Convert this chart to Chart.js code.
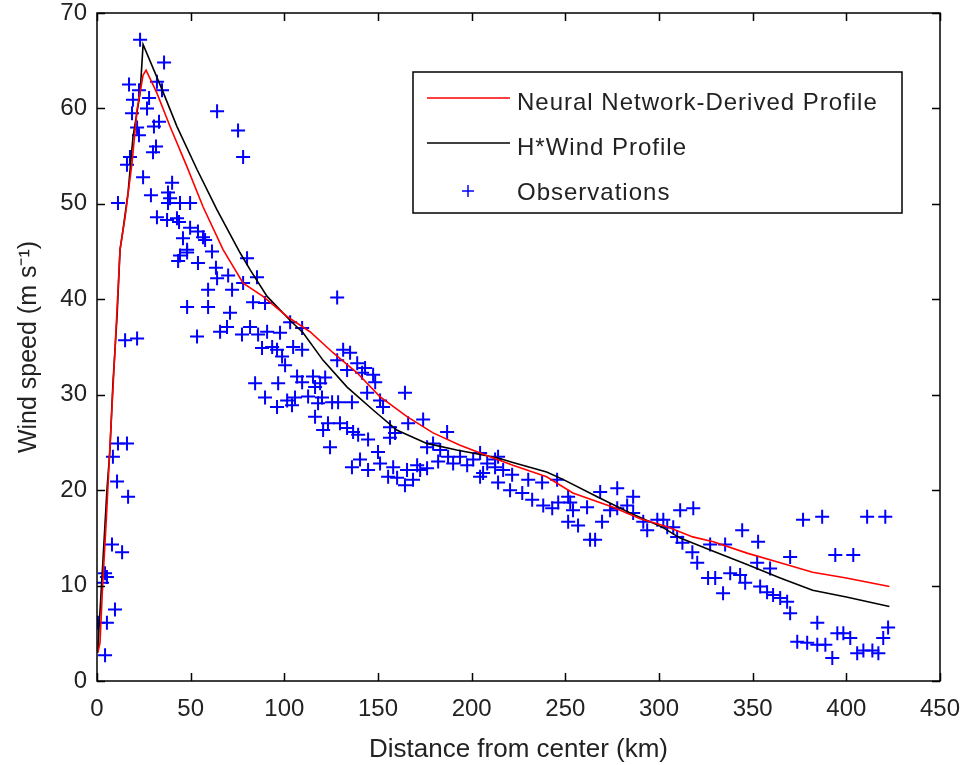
<!DOCTYPE html>
<html>
<head>
<meta charset="utf-8">
<script src="https://cdn.jsdelivr.net/npm/chart.js@4/dist/chart.umd.min.js"></script>
<style>
  html, body { margin: 0; padding: 0; background: #fff; }
</style>
</head>
<body>
<canvas id="windChart" width="969" height="765"></canvas>
<script>
// Axis ticks
const xTicks = [0, 50, 100, 150, 200, 250, 300, 350, 400, 450];
const yTicks = [0, 10, 20, 30, 40, 50, 60, 70];

// Neural network derived profile (red)
const nnX = [0.5, 1.6, 3, 5, 6.9, 9.6, 12.3, 15, 18.7, 21.4, 24.6, 26.2, 32, 39, 48, 56.6, 67.3, 78, 88.6, 101.4, 113.7, 126, 138.8, 151, 165.5, 179.4, 193.8, 209.8, 222, 240, 254, 275.5, 290, 304, 318, 329, 347, 364.7, 382, 400, 423];
const nnY = [3, 4, 10, 17, 24.5, 34.7, 45.2, 48.6, 54.3, 59.9, 63.5, 64, 61.6, 58.1, 53.9, 49.7, 45.2, 41.7, 40.3, 38.2, 36.6, 34.4, 32.3, 29.8, 27.7, 26, 24.7, 23.5, 22.6, 21.4, 19.7, 18.2, 17, 16.2, 15.1, 14.6, 13.4, 12.4, 11.4, 10.8, 9.9];

// H*Wind profile (black)
const hwX = [0.5, 1.0, 3.2, 5.3, 6.9, 8.5, 10.7, 12.3, 13.9, 16.6, 19.2, 23, 24.6, 34.7, 42.7, 53.4, 64, 76.3, 81.7, 90.8, 103, 110, 120.7, 133.5, 147.4, 160, 176, 192, 213.6, 222, 240, 249, 267, 284.6, 302, 311, 329, 347, 364.7, 382, 400, 423];
const hwY = [3, 5.3, 12.7, 20, 24.2, 31.2, 38.2, 45.2, 47.3, 51.2, 57, 61.6, 66.7, 62, 58.1, 53.6, 49.4, 44.9, 43.1, 40.3, 37.8, 36.5, 33.6, 30.8, 28.4, 26.3, 24.9, 24.2, 23.4, 22.9, 21.9, 21.1, 19.3, 17.6, 16.1, 15.0, 13.6, 12.2, 10.8, 9.5, 8.8, 7.8];

// Observations
const obsX = [
  23.0, 35.8, 17.1, 22.4, 19.2, 27.8, 26.7, 18.7, 32.0, 34.7, 64.1, 75.3, 78.0, 33.1, 30.4, 21.4, 22.4, 31.5, 29.9, 17.6,
  16.0, 24.6, 40.1, 37.9, 28.8, 11.2, 39.0, 44.3, 49.7, 37.9, 32.0, 37.4, 42.7, 43.8, 49.7, 53.9, 56.6, 57.7, 45.9, 48.1,
  44.3, 61.4, 80.1,
  43.3, 48.1, 53.9, 63.5, 70.0, 64.1, 85.4, 78.0, 59.3, 72.1, 48.1, 59.3, 83.3, 89.7, 71.0, 69.4, 65.7, 53.4, 81.7, 77.4,
  86.0, 90.8, 97.7, 88.1, 93.5, 96.1, 98.8, 100.4, 84.4, 96.7, 89.7, 96.1, 101.5, 15.0, 21.4, 11.2, 16.0, 8.5, 10.7, 16.6,
  8.0, 13.4, 4.3, 5.3, 2.7, 9.6, 0.5, 5.3, 4.3,
  128.2, 103.1, 109.5, 104.7, 109.5, 131.4, 135.1, 128.2, 138.9, 143.1, 141.5, 147.4, 148.5, 133.5, 106.8, 109.5, 115.3, 119.1, 121.8, 116.4,
  105.7, 104.1, 112.7, 120.1, 118.0, 125.5, 128.7, 136.1, 164.4, 151.1, 152.7, 144.2, 116.4, 123.3, 120.7, 129.7, 133.5, 136.7, 139.4, 144.7,
  124.4, 150.0, 156.4, 159.1, 156.4, 166.1, 174.1, 136.1, 140.4, 144.7, 151.1, 155.4, 158.1, 160.2, 164.4, 165.5, 168.7, 172.5, 170.9, 176.2,
  176.2, 179.4, 183.2, 186.9, 182.1, 187.4, 190.1, 193.8, 197.6, 200.8, 204.5, 208.3, 206.1, 212.5, 214.1,
  214.1, 212.5, 204.5, 216.8, 221.6, 220.5, 227.0, 230.2, 232.3, 237.6, 238.2, 243.0, 246.2, 245.6, 251.5, 252.6, 254.1, 261.6, 251.5, 256.8,
  269.6, 263.2, 265.9, 268.6, 277.7, 273.9, 277.7, 283.0, 286.2, 286.2, 291.6, 293.7, 299.1, 302.3, 304.4, 307.6, 311.3, 318.3, 309.7, 312.5,
  317.8, 320.4,
  327.3, 335.3, 326.2, 330.0, 334.2, 338.0, 343.3, 346.0, 344.4, 352.9, 352.4, 359.3, 354.0, 357.7, 360.9, 364.7, 368.4, 370.0, 370.0, 376.9,
  387.1, 411.1, 420.8, 394.1, 403.7, 384.5, 373.8, 379.1, 384.5, 388.8, 392.5, 395.2, 398.4, 402.1, 405.8, 409.1, 413.9, 417.1, 419.7, 422.3
];
const obsY = [
  67.2, 64.8, 62.5, 61.9, 60.9, 61.1, 60.0, 59.5, 62.8, 61.9, 59.7, 57.7, 54.9, 58.6, 58.1, 58.0, 57.2, 56.0, 55.4, 54.9,
  54.1, 52.8, 52.2, 51.2, 50.9, 50.1, 50.6, 50.1, 50.1, 50.1, 48.6, 48.3, 48.5, 48.1, 47.5, 47.1, 46.5, 46.2, 46.4, 45.2,
  44.6, 45.0, 44.3,
  44.0, 44.9, 43.8, 43.3, 42.5, 42.2, 42.3, 41.7, 41.0, 41.0, 39.2, 39.2, 39.7, 39.6, 38.6, 37.1, 36.6, 36.1, 37.1, 36.3,
  36.3, 36.6, 36.5, 34.9, 35.0, 34.7, 34.0, 33.1, 31.2, 31.2, 29.7, 28.7, 29.4, 35.7, 35.9, 24.9, 24.9, 23.5, 20.9, 19.3,
  14.3, 13.5, 11.3, 10.9, 10.3, 7.5, 6.1, 6.1, 2.7,
  40.2, 37.6, 37.0, 35.0, 34.7, 34.7, 34.4, 33.6, 33.3, 32.8, 32.3, 32.1, 31.3, 32.6, 31.9, 31.3, 31.9, 31.2, 31.8, 30.8,
  29.7, 28.9, 29.8, 29.7, 29.1, 29.2, 29.2, 29.2, 30.2, 29.4, 28.7, 30.2, 27.7, 27.0, 26.3, 27.0, 26.5, 26.1, 25.8, 25.3,
  24.5, 24.0, 26.6, 26.0, 25.5, 27.0, 27.4, 22.4, 23.2, 22.1, 22.8, 21.4, 22.4, 21.3, 20.5, 22.1, 21.1, 22.1, 22.6, 22.3,
  24.5, 24.9, 24.2, 26.1, 23.0, 23.5, 22.8, 23.5, 22.6, 23.2, 23.9, 22.8, 21.8, 23.2, 20.8,
  23.5, 22.4, 21.4, 22.1, 21.6, 20.0, 19.7, 21.1, 19.0, 20.8, 18.4, 18.1, 18.7, 21.1, 19.3, 18.7, 17.9, 18.2, 16.7, 16.3,
  16.7, 14.8, 14.8, 19.8, 20.2, 17.9, 18.1, 18.4, 19.3, 17.6, 16.7, 15.8, 16.9, 16.9, 16.1, 16.1, 17.9, 18.1, 15.1, 14.5,
  13.5, 12.4,
  14.3, 14.3, 10.8, 10.8, 9.2, 11.3, 11.1, 10.3, 15.8, 14.6, 12.4, 11.8, 9.9, 9.3, 9.0, 8.7, 8.3, 7.1, 13.0, 16.9,
  17.2, 17.2, 17.2, 13.2, 13.2, 6.1, 4.1, 4.0, 3.8, 3.8, 2.4, 5.0, 5.0, 4.5, 2.9, 3.2, 3.2, 2.9, 4.5, 5.6
];

const toPoints = (xs, ys) => xs.map((x, i) => ({ x, y: ys[i] }));

const FONT = "'Liberation Sans', Arial, Helvetica, sans-serif";

// MATLAB-style box with inward ticks
const axesBox = {
  id: 'axesBox',
  afterDatasetsDraw(chart) {
    const { ctx, chartArea: a, scales } = chart;
    const len = 8;
    ctx.save();
    ctx.strokeStyle = '#000';
    ctx.lineWidth = 1.5;
    ctx.beginPath();
    xTicks.forEach(v => {
      const px = Math.round(scales.x.getPixelForValue(v)) + 0.5;
      ctx.moveTo(px, a.bottom); ctx.lineTo(px, a.bottom - len);
      ctx.moveTo(px, a.top); ctx.lineTo(px, a.top + len);
    });
    yTicks.forEach(v => {
      const py = Math.round(scales.y.getPixelForValue(v)) + 0.5;
      ctx.moveTo(a.left, py); ctx.lineTo(a.left + len, py);
      ctx.moveTo(a.right, py); ctx.lineTo(a.right - len, py);
    });
    ctx.stroke();
    ctx.strokeRect(a.left, a.top, a.right - a.left, a.bottom - a.top);
    ctx.restore();
  }
};

// legend box drawn inside the plot, upper right
const legendBox = {
  id: 'legendBox',
  afterDraw(chart) {
    const { ctx, chartArea: a } = chart;
    const x0 = a.left + 316, y0 = a.top + 59, w = 489, h = 141;
    ctx.save();
    ctx.fillStyle = '#fff';
    ctx.fillRect(x0, y0, w, h);
    ctx.strokeStyle = '#000';
    ctx.lineWidth = 1.5;
    ctx.strokeRect(x0, y0, w, h);
    ctx.font = '24px ' + FONT;
    ctx.letterSpacing = '1px';
    ctx.textBaseline = 'middle';
    ctx.fillStyle = '#222';
    chart.data.datasets.forEach((ds, i) => {
      const cy = y0 + 31 + i * 45;
      ctx.strokeStyle = ds.borderColor;
      ctx.lineWidth = 1.5;
      ctx.beginPath();
      if (ds.showLine) {
        ctx.moveTo(x0 + 14, cy - 5);
        ctx.lineTo(x0 + 97, cy - 5);
      } else {
        ctx.moveTo(x0 + 49, cy - 2); ctx.lineTo(x0 + 61, cy - 2);
        ctx.moveTo(x0 + 55, cy - 8); ctx.lineTo(x0 + 55, cy + 4);
      }
      ctx.stroke();
      ctx.fillText(ds.label, x0 + 104, cy);
    });
    ctx.restore();
  }
};

new Chart(document.getElementById('windChart'), {
  type: 'scatter',
  data: {
    datasets: [
      {
        label: 'Neural Network-Derived Profile',
        data: toPoints(nnX, nnY),
        showLine: true,
        borderColor: '#ff0000',
        borderWidth: 1.6,
        pointRadius: 0,
        order: 0
      },
      {
        label: 'H*Wind Profile',
        data: toPoints(hwX, hwY),
        showLine: true,
        borderColor: '#000000',
        borderWidth: 1.6,
        pointRadius: 0,
        order: 1
      },
      {
        label: 'Observations',
        data: toPoints(obsX, obsY),
        showLine: false,
        pointStyle: 'cross',
        pointRadius: 7,
        borderColor: '#0000ff',
        borderWidth: 2,
        order: 2
      }
    ]
  },
  options: {
    responsive: false,
    animation: false,
    layout: { padding: { top: 13, right: 29, left: 0, bottom: 0 } },
    plugins: { legend: { display: false }, tooltip: { enabled: false } },
    scales: {
      x: {
        type: 'linear',
        min: 0, max: 450,
        afterBuildTicks: s => { s.ticks = xTicks.map(v => ({ value: v })); },
        afterFit: s => { s.height = 84; s.paddingLeft = 0; s.paddingRight = 0; },
        grid: { display: false, drawTicks: false },
        border: { display: false },
        ticks: { padding: 14, color: '#222', font: { family: FONT, size: 24 } },
        title: { display: true, text: 'Distance from center (km)', color: '#222', font: { family: FONT, size: 26 }, padding: { top: 0, bottom: 0 } }
      },
      y: {
        type: 'linear',
        min: 0, max: 70,
        afterBuildTicks: s => { s.ticks = yTicks.map(v => ({ value: v })); },
        afterFit: s => { s.width = 97; s.paddingTop = 0; s.paddingBottom = 0; },
        grid: { display: false, drawTicks: false },
        border: { display: false },
        ticks: { padding: 10, color: '#222', font: { family: FONT, size: 24 } },
        title: { display: true, text: 'Wind speed (m s\u207B\u00B9)', color: '#222', font: { family: FONT, size: 25 }, padding: { top: 14, bottom: 0 } }
      }
    }
  },
  plugins: [axesBox, legendBox]
});
</script>
</body>
</html>
